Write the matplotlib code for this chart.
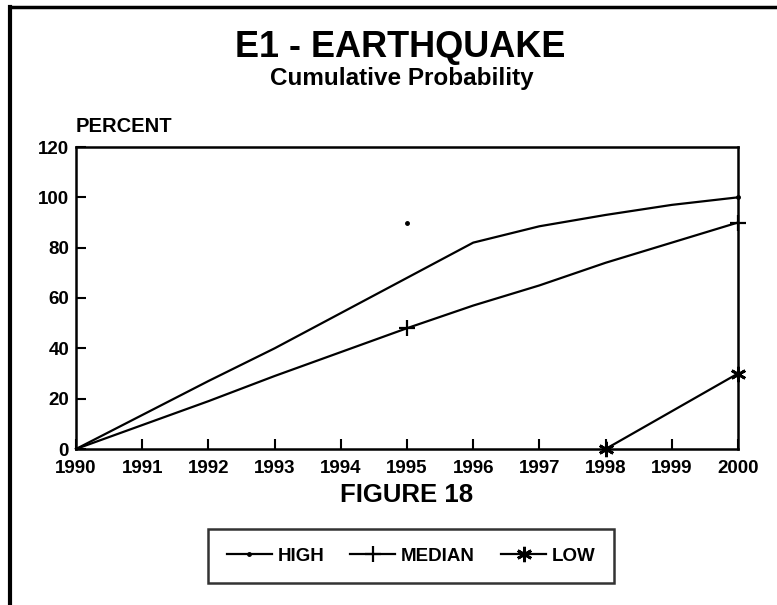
import matplotlib
matplotlib.use('Agg')
import matplotlib.pyplot as plt
from matplotlib.lines import Line2D

plt.rcParams['font.family'] = ['Liberation Sans', 'DejaVu Sans']
plt.rcParams['font.weight'] = 'bold'

# Data
years = [1990, 1991, 1992, 1993, 1994, 1995, 1996, 1997, 1998, 1999, 2000]
high = [0, 13.5, 27, 40, 54, 68, 82, 88.5, 93, 97, 100]
median = [0, 9.5, 19, 29, 38.5, 48, 57, 65, 74, 82, 90]
low_years = [1998, 2000]
low = [0, 30]
# stray HIGH marker printed above the line
high_dot_x = [1995]
high_dot_y = [90]

yticks = [0, 20, 40, 60, 80, 100, 120]

star = (6, 2, 0)  # asterisk marker

fig = plt.figure(figsize=(7.77, 6.05), dpi=100)
ax = fig.add_axes([76/777, 1-449/605, (738-76)/777, (449-147)/605])

# Lines
ax.plot(years, high, color='k', lw=1.6, marker='.', ms=5, markevery=[10], clip_on=False)
ax.plot(high_dot_x, high_dot_y, color='k', ls='none', marker='.', ms=5)
ax.plot(years, median, color='k', lw=1.6, marker='+', ms=12, mew=1.6,
        markevery=[5, 10], clip_on=False)
ax.plot(low_years, low, color='k', lw=1.6, marker=star, ms=11, mew=2, clip_on=False)

ax.set_xlim(1990, 2000)
ax.set_ylim(0, 120)
ax.set_xticks(years)
ax.set_xticklabels([str(y) for y in years])
ax.set_yticks(yticks)
ax.tick_params(direction='in', length=7, width=1.5, labelsize=13.5,
               top=False, right=False)
ax.tick_params(axis='x', pad=8)
ax.tick_params(axis='y', pad=5)
for lab in ax.get_xticklabels() + ax.get_yticklabels():
    lab.set_fontweight('bold')
for s in ax.spines.values():
    s.set_linewidth(1.8)

ax.text(0, 1.035, 'PERCENT', transform=ax.transAxes, fontsize=14.5,
        fontweight='bold', ha='left', va='bottom')

# Titles
fig.text(400/777, 1-57/605, 'E1 - EARTHQUAKE', fontsize=26, ha='center',
         va='baseline', fontweight='bold')
fig.text(402/777, 1-85/605, 'Cumulative Probability', fontsize=17.5, ha='center',
         va='baseline', fontweight='bold')
fig.text(407/777, 1-502/605, 'FIGURE 18', fontsize=18.5, ha='center',
         va='baseline', fontweight='bold')

# Legend
handles = [Line2D([], [], color='k', lw=1.6, marker='.', ms=5),
           Line2D([], [], color='k', lw=1.6, marker='+', ms=12, mew=1.6),
           Line2D([], [], color='k', lw=1.6, marker=star, ms=11, mew=2)]
leg = fig.legend(handles, ['HIGH', 'MEDIAN', 'LOW'], loc='center',
                 bbox_to_anchor=(411/777, 1-556/605), ncol=3, frameon=True,
                 fancybox=False, edgecolor='k', fontsize=13.5, handlelength=2.4,
                 handletextpad=0.3, columnspacing=1.4, borderpad=1.0)
leg.get_frame().set_linewidth(1.8)
for t in leg.get_texts():
    t.set_fontweight('bold')

# Page border (left and top)
fig.add_artist(Line2D([10/777, 10/777], [0, 1-7/605], color='k', lw=3,
                      transform=fig.transFigure))
fig.add_artist(Line2D([10/777, 1], [1-7/605, 1-7/605], color='k', lw=2.5,
                      transform=fig.transFigure))

plt.savefig('out.png', dpi=100)
